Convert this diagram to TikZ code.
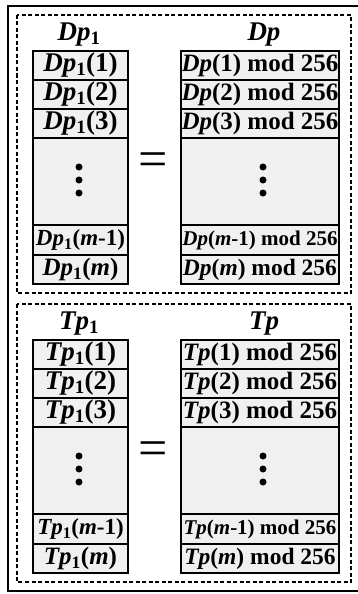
\documentclass[tikz,border=0pt]{standalone}
\usepackage{fontspec}
\setmainfont{Liberation Serif}
\definecolor{cellgray}{RGB}{240,240,240}
\tikzset{
  frame/.style={line width=2pt},
  grp/.style={line width=2.6pt, dash pattern=on 4pt off 2.5pt},
  cell/.style={draw, line width=2pt, fill=cellgray, inner sep=0pt, anchor=north west,
    font=\fontsize{25}{28}\selectfont\bfseries},
  lcell/.style={cell, minimum width=95pt, font=\fontsize{27}{30}\selectfont\bfseries},
  rcell/.style={cell, minimum width=158pt},
  title/.style={inner sep=0pt, font=\fontsize{27}{30}\selectfont\bfseries},
  eqsign/.style={inner sep=0pt, font=\fontsize{52}{52}\selectfont},
  dot/.style={circle, fill=black, inner sep=0pt, minimum size=7pt},
}
\newcommand\idx[1]{\textsubscript{#1}}
\begin{document}
\begin{tikzpicture}[x=1pt,y=-1pt]
\useasboundingbox (0,0) rectangle (358,594);
% outer frame
\draw[frame] (8,6) rectangle (364,591);
\foreach \L/\o in {D/0,T/289}{
  \begin{scope}[yshift=-\o pt]
    % dashed group
    \draw[grp] (17,15) rectangle (351,293);
    % left column
    \node[title] (\L t1) at (79,35) {\textit{\L p}\idx{1}};
    \node[lcell, minimum height=29pt] (\L a1) at (32,50) {\textit{\L p}\idx{1}(1)};
    \node[lcell, minimum height=29pt] (\L a2) at (32,79) {\textit{\L p}\idx{1}(2)};
    \node[lcell, minimum height=29pt] (\L a3) at (32,108) {\textit{\L p}\idx{1}(3)};
    \node[lcell, minimum height=87pt] (\L ad) at (32,137) {};
    \node[lcell, minimum height=30pt, font=\fontsize{23}{26}\selectfont\bfseries] (\L a4) at (32,224) {\textit{\L p}\idx{1}(\textit{m}-1)};
    \node[lcell, minimum height=29pt, font=\fontsize{25}{28}\selectfont\bfseries] (\L a5) at (32,254) {\textit{\L p}\idx{1}(\textit{m})};
    \node[dot] (\L ad1) at (79,167) {};
    \node[dot] (\L ad2) at (79,180) {};
    \node[dot] (\L ad3) at (79,193) {};
    % equals sign
    \node[eqsign] (\L eq) at (153,165) {=};
    % right column
    \node[title] (\L t2) at (264,35) {\textit{\L p}};
    \node[rcell, minimum height=29pt] (\L b1) at (180,50) {\textit{\L p}(1) mod 256};
    \node[rcell, minimum height=29pt] (\L b2) at (180,79) {\textit{\L p}(2) mod 256};
    \node[rcell, minimum height=29pt] (\L b3) at (180,108) {\textit{\L p}(3) mod 256};
    \node[rcell, minimum height=87pt] (\L bd) at (180,137) {};
    \node[rcell, minimum height=30pt, font=\fontsize{21}{24}\selectfont\bfseries] (\L b4) at (180,224) {\textit{\L p}(\textit{m}-1) mod 256};
    \node[rcell, minimum height=29pt, font=\fontsize{23.5}{26}\selectfont\bfseries] (\L b5) at (180,254) {\textit{\L p}(\textit{m}) mod 256};
    \node[dot] (\L bd1) at (263,167) {};
    \node[dot] (\L bd2) at (263,180) {};
    \node[dot] (\L bd3) at (263,193) {};
  \end{scope}
}
\end{tikzpicture}
\end{document}
